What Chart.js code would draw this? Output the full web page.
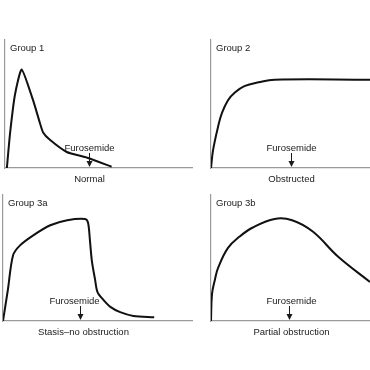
<!DOCTYPE html>
<html>
<head>
<meta charset="utf-8">
<script src="https://cdn.jsdelivr.net/npm/chart.js@4.4.1/dist/chart.umd.min.js"></script>
<style>
	html, body { margin:0; padding:0; background:#fff; }
	body { width:370px; height:370px; position:relative; overflow:hidden; }
	.panel { position:absolute; }
</style>
</head>
<body>
<div class="panel" style="left:0;top:30px;width:200px;height:160px"><canvas id="g1"></canvas></div>
<div class="panel" style="left:205px;top:30px;width:165px;height:160px"><canvas id="g2"></canvas></div>
<div class="panel" style="left:0;top:185px;width:200px;height:160px"><canvas id="g3a"></canvas></div>
<div class="panel" style="left:205px;top:185px;width:165px;height:160px"><canvas id="g3b"></canvas></div>
<script>
// renogram curves, time 0-100 / activity 0-100
const group1X  = [1, 2.7, 5.3, 8.9, 15, 18.7, 20.3, 24, 33, 44, 57];
const group1Y  = [0, 27, 57, 77, 53, 35, 28, 22, 12.5, 8, 1];
const group2X  = [0, 1.3, 4.4, 6.9, 10.7, 15, 21, 30, 40, 100];
const group2Y  = [0, 14, 32, 43, 53, 59, 64, 67, 69, 69];
const group3aX = [0, 2.6, 5.3, 9, 16, 25, 34, 43.4, 45, 46, 47, 48.7, 50, 53, 57, 62, 69, 80];
const group3aY = [0, 25, 52, 60, 68, 76, 80, 81, 78, 64, 48, 33, 23, 17, 11, 7, 4, 3];
const group3bX = [0, 0.6, 2.5, 4.4, 10.7, 18, 26, 40, 51, 64, 80, 100];
const group3bY = [0, 21, 33, 42, 58, 67, 74, 81, 80, 71, 51, 31];

const titles     = ['Group 1', 'Group 2', 'Group 3a', 'Group 3b'];
const diagnoses  = ['Normal', 'Obstructed', 'Stasis\u2013no obstruction', 'Partial obstruction'];
const furosemide = [45, 50, 41, 49];

const FONT = '9.5px "Liberation Sans", Arial, sans-serif';
// small horizontal nudges of the "Furosemide" / diagnosis captions, px
const captionShift = [[0, 0], [0, 0], [-6, 3], [2, 2]];

const annot = (idx) => ({
	id: 'annot' + idx,
	afterDraw(chart) {
		const { ctx, chartArea: a, scales } = chart;
		const fx = Math.round(scales.x.getPixelForValue(furosemide[idx])) + 0.5;
		const [s1, s2] = captionShift[idx];
		ctx.save();
		ctx.fillStyle = '#1a1a1a';
		ctx.font = FONT;
		ctx.textBaseline = 'middle';
		ctx.textAlign = 'left';
		ctx.fillText(titles[idx], a.left + 5, a.top + 8);
		ctx.textAlign = 'center';
		ctx.fillText('Furosemide', fx + s1, a.bottom - 20);
		ctx.fillText(diagnoses[idx], fx + s2, a.bottom + 11);
		// arrow
		ctx.strokeStyle = '#1a1a1a';
		ctx.lineWidth = 1;
		ctx.beginPath(); ctx.moveTo(fx, a.bottom - 15); ctx.lineTo(fx, a.bottom - 5); ctx.stroke();
		ctx.beginPath(); ctx.moveTo(fx - 3, a.bottom - 7); ctx.lineTo(fx + 3, a.bottom - 7); ctx.lineTo(fx, a.bottom - 1); ctx.closePath(); ctx.fill();
		ctx.restore();
	}
});

const axis = (extra) => Object.assign({
	type: 'linear', min: 0, max: 100,
	grid: { display: false },
	ticks: { display: false },
	border: { display: true, color: '#9a9a9a', width: 1.2 }
}, extra);

const makeChart = (id, idx, xs, ys, pad, tension) => new Chart(document.getElementById(id), {
	type: 'line',
	data: { datasets: [{ data: xs.map((x, i) => ({ x, y: ys[i] })), borderColor: '#111', borderWidth: 2, pointRadius: 0, tension, fill: false }] },
	options: {
		responsive: true, maintainAspectRatio: false, animation: false,
		layout: { padding: pad },
		plugins: { legend: { display: false }, tooltip: { enabled: false } },
		scales: {
			x: axis({ position: 'bottom', afterFit: (s) => { s.height = 0; } }),
			y: axis({ position: 'left', afterFit: (s) => { s.width = 0; } })
		}
	},
	plugins: [annot(idx)]
});

makeChart('g1', 0, group1X, group1Y, { left: 5, right: 8, top: 10, bottom: 22 }, 0.18);
makeChart('g2', 1, group2X, group2Y, { left: 6, right: 0, top: 10, bottom: 22 }, 0.4);
makeChart('g3a', 2, group3aX, group3aY, { left: 3, right: 8, top: 10, bottom: 24 }, 0.3);
makeChart('g3b', 3, group3bX, group3bY, { left: 6, right: 0, top: 10, bottom: 24 }, 0.4);
</script>
</body>
</html>
